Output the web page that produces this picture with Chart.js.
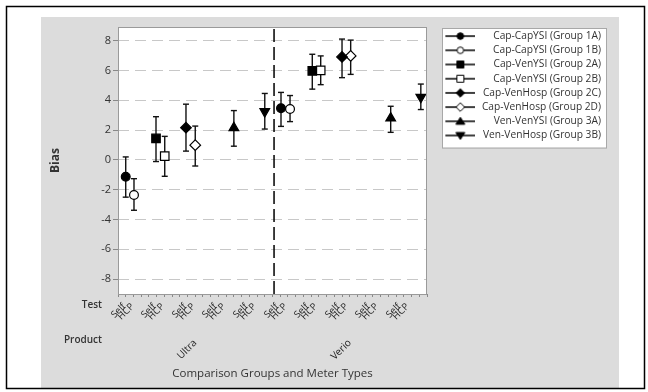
<!DOCTYPE html>
<html>
<head>
<meta charset="utf-8">
<script src="https://cdn.jsdelivr.net/npm/chart.js@4.4.1/dist/chart.umd.min.js"></script>
<style>
  html, body { margin: 0; padding: 0; background: #fff; }
  #wrap { width: 648px; height: 392px; }
</style>
</head>
<body>
<div id="wrap"><canvas id="biasChart" width="648" height="392"></canvas></div>
<script>
// legend order of the series
const seriesNames = [
  'Cap-CapYSI (Group 1A)', 'Cap-CapYSI (Group 1B)',
  'Cap-VenYSI (Group 2A)', 'Cap-VenYSI (Group 2B)',
  'Cap-VenHosp (Group 2C)', 'Cap-VenHosp (Group 2D)',
  'Ven-VenYSI (Group 3A)', 'Ven-VenHosp (Group 3B)'
];
const pointStyles = ['circle', 'circle', 'rect', 'rect', 'rectRot', 'rectRot', 'triangle', 'triangle'];
const filled = [true, false, true, false, true, false, true, true];
const rotations = [0, 0, 0, 0, 0, 0, 0, 180];

// x axis categories
const products = ['Ultra', 'Verio'];
const productPos = [10, 30];
const tests = ['Self', 'HCP'];
const selfPos = [0.8, 4.7, 8.7, 12.6, 16.6, 20.6, 24.5, 28.5, 32.4, 36.4];
const hcpPos = [1.9, 5.8, 9.8, 13.7, 17.7, 21.7, 25.6, 29.6, 33.5, 37.5];
const dividerPos = 20.2;

// position of each series inside the Ultra / Verio blocks
const xUltra = [1.0, 2.07, 4.92, 6.05, 8.8, 10.0, 15.0, 19.0];
const xVerio = [21.1, 22.27, 25.15, 26.24, 29.0, 30.12, 35.3, 39.2];

// bias and interval ends
const biasUltra = [-1.13, -2.36, 1.44, 0.25, 2.16, 0.99, 2.15, 3.25];
const lowUltra  = [-2.5, -3.38, -0.11, -1.1, 0.59, -0.41, 0.92, 2.07];
const highUltra = [0.2, -1.26, 2.9, 1.58, 3.74, 2.27, 3.31, 4.46];

const biasVerio = [3.47, 3.42, 5.97, 6.01, 6.91, 6.98, 2.8, 4.21];
const lowVerio  = [2.25, 2.57, 4.75, 5.05, 5.52, 5.74, 1.85, 3.38];
const highVerio = [4.53, 4.32, 7.09, 6.98, 8.11, 8.04, 3.6, 5.09];

const yMin = -9, yMax = 8.92;
const xMin = 0, xMax = 40;
const yTicks = [-8, -6, -4, -2, 0, 2, 4, 6, 8];

const FONT = "'Open Sans', 'Noto Sans', sans-serif";
const TEXT = '#333';

// small legend symbol: line with the marker in the middle
function makeSymbol(i) {
  const c = document.createElement('canvas');
  c.width = 40; c.height = 12;
  const g = c.getContext('2d');
  g.strokeStyle = '#000';
  g.lineWidth = 1.5;
  g.beginPath(); g.moveTo(10, 6); g.lineTo(40, 6); g.stroke();
  const cx = 25, cy = 6;
  g.fillStyle = filled[i] ? '#000' : '#fff';
  g.lineWidth = 1;
  g.beginPath();
  switch (pointStyles[i]) {
    case 'circle': g.arc(cx, cy, 3.3, 0, Math.PI * 2); break;
    case 'rect': g.rect(cx - 3.5, cy - 3.5, 7, 7); break;
    case 'rectRot':
      g.moveTo(cx, cy - 4.3); g.lineTo(cx + 4.3, cy); g.lineTo(cx, cy + 4.3); g.lineTo(cx - 4.3, cy); g.closePath(); break;
    case 'triangle':
      if (rotations[i] === 180) { g.moveTo(cx - 4.5, cy - 3); g.lineTo(cx + 4.5, cy - 3); g.lineTo(cx, cy + 4); }
      else { g.moveTo(cx - 4.5, cy + 3); g.lineTo(cx + 4.5, cy + 3); g.lineTo(cx, cy - 4); }
      g.closePath(); break;
  }
  g.fill(); g.stroke();
  return c;
}
const symbols = seriesNames.map((n, i) => makeSymbol(i));

const markerRadius = { circle: 4.4, rect: 6, rectRot: 5.3, triangle: 5.6 };

// datasets: markers, interval bars, divider
const datasets = [];
seriesNames.forEach((name, i) => {
  datasets.push({
    type: 'scatter',
    label: name,
    data: [{ x: xUltra[i], y: biasUltra[i] }, { x: xVerio[i], y: biasVerio[i] }],
    pointStyle: pointStyles[i],
    rotation: rotations[i],
    pointRadius: markerRadius[pointStyles[i]],
    backgroundColor: filled[i] ? '#000' : '#fff',
    borderColor: '#000',
    borderWidth: 1.2,
    order: 0
  });
});
seriesNames.forEach((name, i) => {
  datasets.push({
    type: 'line',
    label: 'ci' + i,
    data: [
      { x: xUltra[i], y: highUltra[i] }, { x: xUltra[i], y: lowUltra[i] }, { x: xUltra[i], y: null },
      { x: xVerio[i], y: highVerio[i] }, { x: xVerio[i], y: lowVerio[i] }
    ],
    borderColor: '#111',
    borderWidth: 1.4,
    pointStyle: 'line',
    pointRadius: 3,
    pointBorderWidth: 1.4,
    pointBorderColor: '#111',
    spanGaps: false,
    order: 1
  });
});
datasets.push({
  type: 'line',
  label: 'divider',
  data: [{ x: dividerPos, y: yMin }, { x: dividerPos, y: yMax }],
  borderColor: '#000',
  borderWidth: 1.5,
  borderDash: [13, 5],
  pointRadius: 0,
  order: 2
});

const panelPlugin = {
  id: 'panel',
  beforeDraw(chart) {
    const { ctx, chartArea: a } = chart;
    ctx.save();
    ctx.fillStyle = '#fff';
    ctx.fillRect(0, 0, chart.width, chart.height);
    ctx.fillStyle = '#dcdcdc';
    ctx.fillRect(41, 17, 578, 371);
    ctx.strokeStyle = '#000';
    ctx.lineWidth = 1.5;
    ctx.strokeRect(6.5, 6.5, 638, 382);
    ctx.fillStyle = '#fff';
    ctx.fillRect(a.left, a.top, a.right - a.left, a.bottom - a.top);
    // legend box
    const lg = chart.legend;
    if (lg && lg.legendHitBoxes && lg.legendHitBoxes.length) {
      const hb = lg.legendHitBoxes;
      const last = hb[hb.length - 1];
      const bx = lg.left + 15, by = lg.top + 1;
      const bw = lg.right + 5 - bx, bh = last.top + last.height + 7 - by;
      ctx.fillRect(bx, by, bw, bh);
      ctx.strokeStyle = '#a8a8a8';
      ctx.lineWidth = 1;
      ctx.strokeRect(bx + 0.5, by + 0.5, bw, bh);
    }
    ctx.restore();
  },
  afterDatasetsDraw(chart) {
    const { ctx, chartArea: a } = chart;
    ctx.save();
    ctx.strokeStyle = '#9a9a9a';
    ctx.lineWidth = 1;
    ctx.strokeRect(a.left + 0.5, a.top + 0.5, a.right - a.left - 1, a.bottom - a.top);
    ctx.restore();
  },
  afterDraw(chart) {
    const { ctx } = chart;
    const xt = chart.scales.xTest, xp = chart.scales.xProd;
    ctx.save();
    ctx.fillStyle = TEXT;
    ctx.font = "600 10px " + FONT;
    ctx.textAlign = 'right';
    ctx.textBaseline = 'middle';
    ctx.fillText('Test', 102, xt.top + 8);
    ctx.fillText('Product', 102, xp.top + 5);
    ctx.restore();
  }
};

new Chart(document.getElementById('biasChart'), {
  type: 'scatter',
  data: { datasets },
  plugins: [panelPlugin],
  options: {
    responsive: false,
    animation: false,
    events: [],
    layout: { padding: { left: 41, top: 27, right: 47, bottom: 7 } },
    plugins: {
      tooltip: { enabled: false },
      legend: {
        position: 'right',
        align: 'start',
        maxWidth: 174,
        labels: {
          usePointStyle: true,
          pointStyleWidth: 48.75,
          padding: 4,
          textAlign: 'right',
          color: TEXT,
          font: { family: FONT, size: 10.2 },
          generateLabels: () => seriesNames.map((n, i) => ({
            text: n,
            pointStyle: symbols[i],
            datasetIndex: i,
            fillStyle: '#000',
            strokeStyle: '#000',
            fontColor: TEXT,
            textAlign: 'right',
            lineWidth: 0,
            hidden: false
          }))
        }
      }
    },
    scales: {
      y: {
        type: 'linear',
        min: yMin,
        max: yMax,
        afterBuildTicks: s => { s.ticks = yTicks.map(v => ({ value: v })); },
        afterFit: s => { s.width = 77; },
        ticks: { color: TEXT, font: { family: FONT, size: 11 }, padding: 2 },
        grid: { color: '#c8c8c8', lineWidth: 1, tickColor: '#888', tickLength: 5, tickBorderDash: [] },
        border: { display: false, dash: [11, 6] },
        title: { display: true, text: 'Bias', color: TEXT, font: { family: FONT, size: 12, weight: 'bold' }, padding: { top: 7, bottom: 0 } }
      },
      x: {
        type: 'linear',
        position: 'bottom',
        weight: 0,
        min: xMin,
        max: xMax,
        ticks: { display: false, stepSize: 1 },
        grid: { drawOnChartArea: false, tickLength: 3, tickColor: '#888' },
        border: { display: false },
        afterFit: s => { s.height = 3; }
      },
      xTest: {
        type: 'linear',
        position: 'bottom',
        weight: 1,
        min: xMin,
        max: xMax,
        afterBuildTicks: s => {
          const t = [];
          selfPos.forEach((p, k) => { t.push({ value: p }); t.push({ value: hcpPos[k] }); });
          s.ticks = t;
        },
        ticks: {
          autoSkip: false, minRotation: 45, maxRotation: 45, padding: -4,
          color: '#222', font: { family: FONT, size: 9.5 },
          callback: (v, i) => tests[i % 2]
        },
        grid: { display: false },
        border: { display: false },
        afterFit: s => { s.height = 38; }
      },
      xProd: {
        type: 'linear',
        position: 'bottom',
        weight: 2,
        min: xMin,
        max: xMax,
        afterBuildTicks: s => { s.ticks = productPos.map(v => ({ value: v })); },
        ticks: {
          autoSkip: false, minRotation: 45, maxRotation: 45, padding: -6,
          color: '#222', font: { family: FONT, size: 10 },
          callback: (v, i) => products[i]
        },
        grid: { display: false },
        border: { display: false },
        title: { display: true, text: 'Comparison Groups and Meter Types', color: TEXT, font: { family: FONT, size: 11.5 }, padding: { top: 0, bottom: 4 } },
        afterFit: s => { s.height = 50; }
      }
    }
  }
});
</script>
</body>
</html>
